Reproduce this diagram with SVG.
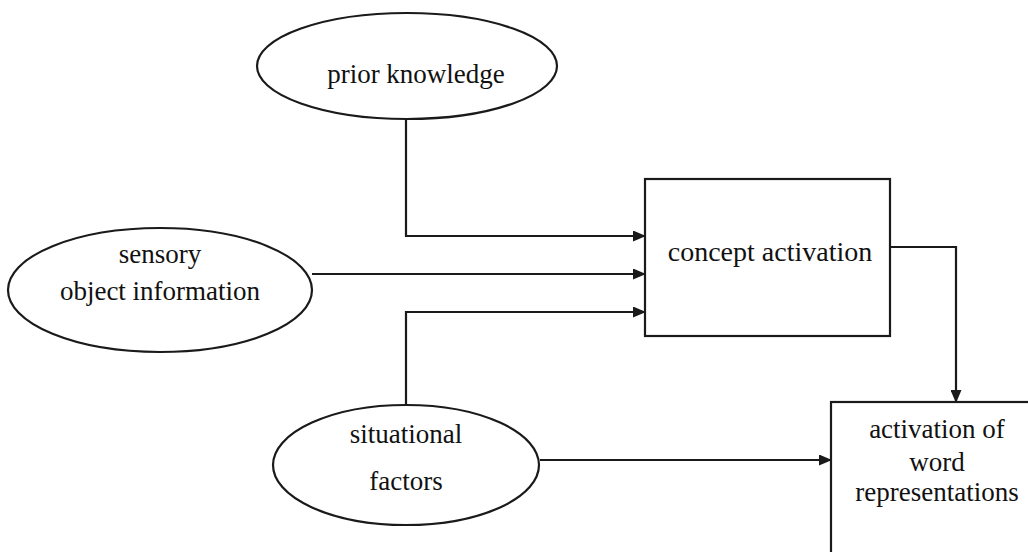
<svg xmlns="http://www.w3.org/2000/svg" width="1028" height="552" viewBox="0 0 1028 552">
  <style>
    .shape { fill: #ffffff; stroke: #1a1a1a; stroke-width: 2.2; }
    .link { fill: none; stroke: #1a1a1a; stroke-width: 2.2; }
    .label { font-family: "Liberation Serif", "Times New Roman", serif; font-size: 27px; fill: #111111; text-anchor: middle; }
  </style>
  <defs>
    <marker id="arrow" markerUnits="userSpaceOnUse" markerWidth="13" markerHeight="11" refX="12" refY="5.5" orient="auto">
      <path d="M0,0 L13,5.5 L0,11 Z" fill="#1a1a1a"/>
    </marker>
  </defs>
  <rect width="1028" height="552" fill="#ffffff"/>

  <g id="connectors">
    <path class="link" d="M406,119 V236 H645" marker-end="url(#arrow)"/>
    <path class="link" d="M312,274 H645" marker-end="url(#arrow)"/>
    <path class="link" d="M406,405 V312 H645" marker-end="url(#arrow)"/>
    <path class="link" d="M890,247 H956 V402" marker-end="url(#arrow)"/>
    <path class="link" d="M540,460 H831" marker-end="url(#arrow)"/>
  </g>

  <g id="prior-knowledge">
    <ellipse class="shape" cx="407" cy="66" rx="150" ry="53"/>
    <text class="label" x="416" y="83">prior knowledge</text>
  </g>

  <g id="sensory-object-information">
    <ellipse class="shape" cx="160" cy="290" rx="152" ry="62"/>
    <text class="label" x="160" y="263">sensory</text>
    <text class="label" x="160" y="300">object information</text>
  </g>

  <g id="situational-factors">
    <ellipse class="shape" cx="406" cy="465" rx="133" ry="60"/>
    <text class="label" x="406" y="443">situational</text>
    <text class="label" x="406" y="490">factors</text>
  </g>

  <g id="concept-activation">
    <rect class="shape" x="645" y="179" width="245" height="157"/>
    <text class="label" x="770" y="261" style="font-size:28px">concept activation</text>
  </g>

  <g id="word-representations">
    <rect class="shape" x="831" y="402" width="230" height="200"/>
    <text class="label" x="937" y="438">activation of</text>
    <text class="label" x="937" y="471">word</text>
    <text class="label" x="937" y="501">representations</text>
  </g>
</svg>
